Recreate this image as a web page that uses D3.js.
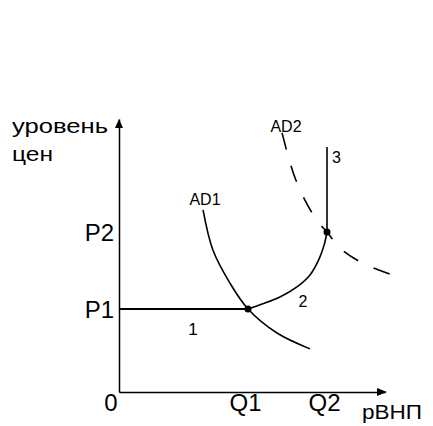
<!DOCTYPE html>
<html>
<head>
<meta charset="utf-8">
<script src="https://cdn.jsdelivr.net/npm/d3@7"></script>
<style>
  body { margin: 0; background: #fff; }
  text { font-family: Arial, "Liberation Sans", sans-serif; fill: #000; }
</style>
</head>
<body>
<div id="chart"></div>
<script>
// уровни и объёмы (в условных единицах)
const priceLevels = [3.04, 5.86];
const priceLabels = ["P1", "P2"];
const outputLevels = [4.85, 7.82];
const outputLabels = ["Q1", "Q2"];

// кривая AD1
const ad1 = [[3.16, 6.67], [3.53, 5.2], [4.17, 3.99], [4.85, 3.04], [5.94, 2.16], [7.18, 1.58]];
// кривая AD2 (пунктир)
const ad2 = [[6.13, 9.49], [6.35, 8.68], [6.62, 7.84], [6.99, 7.03], [7.48, 6.23], [7.82, 5.86],
             [8.31, 5.27], [9.14, 4.73], [10.19, 4.32]];
// отрезки совокупного предложения
const seg1 = [[0, 3.04], [4.85, 3.04]];
const seg2 = [[4.85, 3.04], [5.38, 3.22], [6.05, 3.48], [6.69, 3.85], [7.18, 4.29], [7.52, 4.87], [7.71, 5.38], [7.82, 5.86]];
const seg3 = [[7.82, 5.86], [7.82, 8.97]];
const equilibria = [[4.85, 3.04], [7.82, 5.86]];

const width = 433, height = 426;

const svg = d3.select("#chart")
    .append("svg")
    .attr("width", width)
    .attr("height", height);

const x = d3.scaleLinear().domain([0, 10]).range([119, 385]);
const y = d3.scaleLinear().domain([0, 10]).range([392, 119]);

// оси
const yAxis = svg.append("g")
    .attr("transform", `translate(${x(0)},0)`)
    .call(d3.axisLeft(y).tickValues(priceLevels).tickFormat((d, i) => priceLabels[i])
        .tickSize(0).tickSizeOuter(0).tickPadding(5));
yAxis.select(".domain").attr("stroke", "#000").attr("stroke-width", 1.5);
yAxis.selectAll("text")
    .attr("font-size", 24)
    .attr("font-family", "Arial, 'Liberation Sans', sans-serif")
    .attr("dy", "0.36em");

const xAxis = svg.append("g")
    .attr("transform", `translate(0,${y(0)})`)
    .call(d3.axisBottom(x).tickValues(outputLevels).tickFormat((d, i) => outputLabels[i])
        .tickSize(0).tickSizeOuter(0).tickPadding(2));
xAxis.select(".domain").attr("stroke", "#000").attr("stroke-width", 1.5);
xAxis.selectAll("text")
    .attr("font-size", 24)
    .attr("font-family", "Arial, 'Liberation Sans', sans-serif")
    .attr("x", -3);

// стрелки
svg.append("path")
    .attr("d", `M${x(0) - 4},${y(10) + 9}L${x(0)},${y(10)}L${x(0) + 4},${y(10) + 9}Z`)
    .attr("fill", "#000");
svg.append("path")
    .attr("d", `M${x(10) - 8},${y(0) - 4}L${x(10) + 2},${y(0)}L${x(10) - 8},${y(0) + 4}Z`)
    .attr("fill", "#000");

const line = d3.line().x(d => x(d[0])).y(d => y(d[1]));
const smooth = d3.line().x(d => x(d[0])).y(d => y(d[1])).curve(d3.curveCatmullRom);

svg.append("path").attr("d", smooth(ad1))
    .attr("fill", "none").attr("stroke", "#000").attr("stroke-width", 1.6);
svg.append("path").attr("d", smooth(ad2))
    .attr("fill", "none").attr("stroke", "#000").attr("stroke-width", 1.6)
    .attr("stroke-dasharray", "17,17");
svg.append("path").attr("d", line(seg1))
    .attr("fill", "none").attr("stroke", "#000").attr("stroke-width", 2);
svg.append("path").attr("d", smooth(seg2))
    .attr("fill", "none").attr("stroke", "#000").attr("stroke-width", 1.6);
svg.append("path").attr("d", line(seg3))
    .attr("fill", "none").attr("stroke", "#000").attr("stroke-width", 1.6);

svg.selectAll("circle")
    .data(equilibria)
    .enter()
    .append("circle")
    .attr("cx", d => x(d[0]))
    .attr("cy", d => y(d[1]))
    .attr("r", 3.5)
    .attr("fill", "#000");

// подписи
svg.append("text").attr("x", 12).attr("y", 133).attr("font-size", 21)
    .attr("textLength", 96).attr("lengthAdjust", "spacingAndGlyphs").text("уровень");
svg.append("text").attr("x", 12).attr("y", 161).attr("font-size", 21)
    .attr("textLength", 41).attr("lengthAdjust", "spacingAndGlyphs").text("цен");
svg.append("text").attr("x", 111).attr("y", 411).attr("font-size", 24)
    .style("text-anchor", "middle").text("0");
svg.append("text").attr("x", 362).attr("y", 419).attr("font-size", 20)
    .attr("textLength", 60).attr("lengthAdjust", "spacingAndGlyphs").text("рВНП");
svg.append("text").attr("x", 205).attr("y", 205).attr("font-size", 16)
    .style("text-anchor", "middle").text("AD1");
svg.append("text").attr("x", 286).attr("y", 132).attr("font-size", 16)
    .style("text-anchor", "middle").text("AD2");
svg.append("text").attr("x", 332).attr("y", 163).attr("font-size", 16).text("3");
svg.append("text").attr("x", 193).attr("y", 335).attr("font-size", 17)
    .style("text-anchor", "middle").text("1");
svg.append("text").attr("x", 303).attr("y", 307).attr("font-size", 16)
    .style("text-anchor", "middle").text("2");
</script>
</body>
</html>
